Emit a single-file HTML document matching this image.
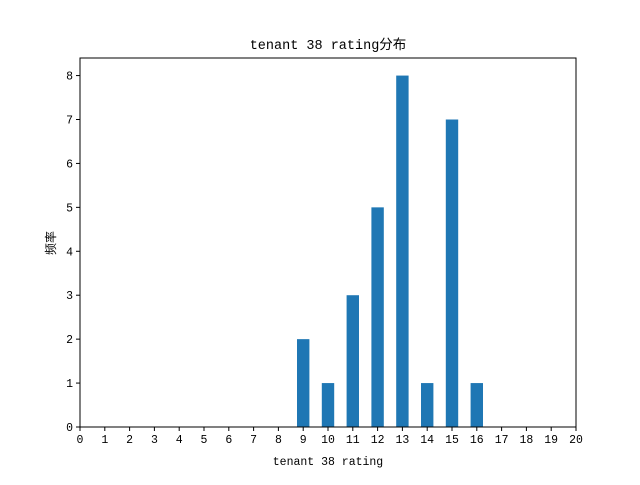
<!DOCTYPE html>
<html><head><meta charset="utf-8"><style>
body{margin:0;background:#fff;}
svg text{font-family:"Liberation Mono","WenQuanYi Zen Hei","Noto Sans CJK SC",monospace;fill:#000;}
</style></head><body>
<svg id="chart" width="640" height="480" xmlns="http://www.w3.org/2000/svg">
<rect width="640" height="480" fill="#fff"/>
<text x="328" y="49" font-size="13.5" text-anchor="middle">tenant 38 rating分布</text>
<text x="328" y="465" font-size="11.5" text-anchor="middle">tenant 38 rating</text>
<text transform="translate(55,243) rotate(-90)" font-size="12" text-anchor="middle">频率</text>
<g id="bars"></g><g id="xt"></g><g id="yt"></g>
<rect x="80" y="58" width="496" height="369" fill="none" stroke="#000" stroke-width="1"/>
</svg>
<script>
const categories=[9,10,11,12,13,14,15,16];
const values=[2,1,3,5,8,1,7,1];
const xTicks=[0,1,2,3,4,5,6,7,8,9,10,11,12,13,14,15,16,17,18,19,20];
const yTicks=[0,1,2,3,4,5,6,7,8];
const L=80,R=576,T=58,B=427,xMax=20,yMax=8.4;
const xs=v=>L+v/xMax*(R-L), ys=v=>B-v/yMax*(B-T);
const NS="http://www.w3.org/2000/svg";
const bars=document.getElementById('bars');
categories.forEach((c,i)=>{const r=document.createElementNS(NS,'rect');
r.setAttribute('x',xs(c-0.25));r.setAttribute('width',xs(0.5)-xs(0));
r.setAttribute('y',ys(values[i]));r.setAttribute('height',B-ys(values[i]));r.setAttribute('fill','#1f77b4');


bars.appendChild(r);});
const xt=document.getElementById('xt');
xTicks.forEach(t=>{const x=xs(t);const l=document.createElementNS(NS,'line');
l.setAttribute('x1',x);l.setAttribute('x2',x);l.setAttribute('y1',B);l.setAttribute('y2',B+4);l.setAttribute('stroke','#000');


xt.appendChild(l);const s=document.createElementNS(NS,'text');s.setAttribute('x',x);s.setAttribute('y',B+16);
s.setAttribute('font-size','11.5');s.setAttribute('text-anchor','middle');s.textContent=t;


xt.appendChild(s);});
const yt=document.getElementById('yt');
yTicks.forEach(t=>{const y=ys(t);const l=document.createElementNS(NS,'line');
l.setAttribute('x1',L-4);l.setAttribute('x2',L);l.setAttribute('y1',y);l.setAttribute('y2',y);l.setAttribute('stroke','#000');


yt.appendChild(l);const s=document.createElementNS(NS,'text');s.setAttribute('x',L-7);s.setAttribute('y',y+4);
s.setAttribute('font-size','11.5');s.setAttribute('text-anchor','end');s.textContent=t;


yt.appendChild(s);});
</script>
</body></html>
